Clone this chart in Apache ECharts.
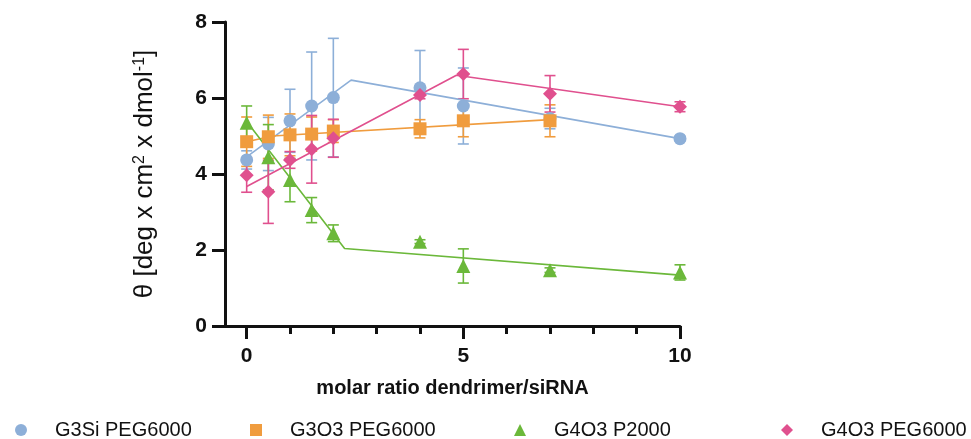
<!DOCTYPE html>
<html><head><meta charset="utf-8">
<script src="https://cdn.jsdelivr.net/npm/echarts@6/dist/echarts.min.js"></script>
<style>html,body{margin:0;padding:0;background:#fff}#c{width:971px;height:439px}</style>
</head><body><div id="c"></div>
<script>
// ---- data ----
const ratios = [0, 0.5, 1, 1.5, 2, 4, 5, 7, 10];
const ratiosG3O3 = [0, 0.5, 1, 1.5, 2, 4, 5, 7];

const g3siMean = [4.37, 4.79, 5.40, 5.79, 6.01, 6.27, 5.79, 5.46, 4.93];
const g3siErr  = [0.24, 0.70, 0.83, 1.42, 1.56, 0.98, 1.00, 0.27, 0.06];

const g3o3Mean = [4.85, 4.98, 5.03, 5.05, 5.13, 5.19, 5.40, 5.40];
const g3o3Err  = [0.65, 0.57, 0.55, 0.45, 0.30, 0.24, 0.42, 0.42];

const g4o3p2Mean = [5.35, 4.44, 3.84, 3.05, 2.44, 2.22, 1.58, 1.47, 1.41];
const g4o3p2Err  = [0.44, 0.86, 0.57, 0.33, 0.22, 0.05, 0.45, 0.06, 0.20];

const g4o3peMean = [3.97, 3.53, 4.37, 4.65, 4.94, 6.08, 6.63, 6.11, 5.77];
const g4o3peErr  = [0.45, 0.83, 0.22, 0.89, 0.50, 0.10, 0.65, 0.48, 0.13];

// segmented-regression fit lines (x, y at breakpoints)
const g3siFitX = [0, 2.41, 10];     const g3siFitY = [4.45, 6.47, 4.93];
const g3o3FitX = [0, 0.6, 7];       const g3o3FitY = [4.85, 5.00, 5.43];
const g4o3p2FitX = [0, 2.26, 10];   const g4o3p2FitY = [5.38, 2.04, 1.34];
const g4o3peFitX = [0, 4.84, 10];   const g4o3peFitY = [3.67, 6.60, 5.77];

const seriesNames = ['G3Si PEG6000', 'G3O3 PEG6000', 'G4O3 P2000', 'G4O3 PEG6000'];
const xTickLabels = [0, 5, 10];
const xMinorTicks = [1, 2, 3, 4, 6, 7, 8, 9];
const yTickLabels = [0, 2, 4, 6, 8];

// ---- styling ----
const colors = ['#8DAFD8', '#F09C3E', '#6BB83A', '#E0508E'];
const symbols = ['circle', 'rect', 'triangle', 'diamond'];
const FONT = 'Liberation Sans, Arial, Helvetica, sans-serif';

const groups = [
  {x: ratios, m: g3siMean, e: g3siErr, fx: g3siFitX, fy: g3siFitY},
  {x: ratiosG3O3, m: g3o3Mean, e: g3o3Err, fx: g3o3FitX, fy: g3o3FitY},
  {x: ratios, m: g4o3p2Mean, e: g4o3p2Err, fx: g4o3p2FitX, fy: g4o3p2FitY},
  {x: ratios, m: g4o3peMean, e: g4o3peErr, fx: g4o3peFitX, fy: g4o3peFitY}
];

function errRender(color) {
  return function (params, api) {
    const x = api.value(0), lo = api.value(1), hi = api.value(2);
    const a = api.coord([x, lo]), b = api.coord([x, hi]);
    const w = 5.5, st = {stroke: color, lineWidth: 1.6};
    return {type: 'group', children: [
      {type: 'line', shape: {x1: a[0], y1: a[1], x2: b[0], y2: b[1]}, style: st},
      {type: 'line', shape: {x1: a[0] - w, y1: a[1], x2: a[0] + w, y2: a[1]}, style: st},
      {type: 'line', shape: {x1: b[0] - w, y1: b[1], x2: b[0] + w, y2: b[1]}, style: st}
    ]};
  };
}

const series = [];
groups.forEach((g, i) => {
  series.push({
    type: 'custom', name: 'err' + i, renderItem: errRender(colors[i]),
    data: g.x.map((x, k) => [x, g.m[k] - g.e[k], g.m[k] + g.e[k]]),
    encode: {x: 0, y: [1, 2]}, z: 2, silent: true
  });
});
groups.forEach((g, i) => {
  series.push({
    type: 'line', name: 'fit' + i, data: g.fx.map((x, k) => [x, g.fy[k]]),
    showSymbol: false, symbol: 'none', lineStyle: {color: colors[i], width: 1.6},
    z: 3, silent: true
  });
});
groups.forEach((g, i) => {
  series.push({
    type: 'scatter', name: seriesNames[i], data: g.x.map((x, k) => [x, g.m[k]]),
    symbol: symbols[i], symbolSize: i === 2 ? 14 : (i === 3 ? 14 : 13),
    itemStyle: {color: colors[i], opacity: 1}, z: 4
  });
});

// legend positions (icon centres) and common settings
const legendCenters = [21, 256, 520, 787];
const legends = seriesNames.map((n, i) => ({
  data: [{name: n, icon: symbols[i]}],
  left: legendCenters[i] - 6, top: 420, padding: 0,
  itemWidth: 12, itemHeight: 12,
  formatter: name => '{g| }{t|' + name + '}',
  textStyle: {
    fontFamily: FONT, fontSize: 20, color: '#111',
    rich: {
      g: {width: 23, fontSize: 20},
      t: {fontFamily: FONT, fontSize: 20, color: '#111'}
    }
  },
  selectedMode: false
}));

const chart = echarts.init(document.getElementById('c'), null, {renderer: 'canvas'});
chart.setOption({
  animation: false,
  backgroundColor: '#fff',
  legend: legends,
  grid: {left: 225, right: 291, top: 22, bottom: 113, containLabel: false},
  xAxis: [{
    type: 'value', min: -0.5, max: 10,
    name: 'molar ratio dendrimer/siRNA', nameLocation: 'middle', nameGap: 52,
    nameTextStyle: {fontFamily: FONT, fontSize: 20, fontWeight: 'bold', color: '#111'},
    axisLine: {show: true, onZero: false, lineStyle: {color: '#111', width: 3}},
    axisTick: {show: true, length: 13, customValues: xTickLabels, lineStyle: {color: '#111', width: 3}},
    axisLabel: {customValues: xTickLabels, margin: 20, fontFamily: FONT, fontSize: 21, fontWeight: 'bold', color: '#111'},
    splitLine: {show: false}
  }, {
    type: 'value', min: -0.5, max: 10, position: 'bottom', gridIndex: 0,
    axisLine: {show: false},
    axisTick: {show: true, length: 8, customValues: xMinorTicks, lineStyle: {color: '#111', width: 3}},
    axisLabel: {show: false}, splitLine: {show: false}
  }],
  yAxis: {
    type: 'value', min: 0, max: 8, interval: 2,
    name: '{n|θ [deg x cm}{s|2}{n| x dmol}{s|-1}{n|]}',
    nameLocation: 'middle', nameGap: 67,
    nameTextStyle: {
      color: '#111',
      rich: {
        n: {fontFamily: FONT, fontSize: 26, color: '#111'},
        s: {fontFamily: FONT, fontSize: 16, color: '#111', verticalAlign: 'top'}
      }
    },
    axisLine: {show: true, onZero: false, lineStyle: {color: '#111', width: 3}},
    axisTick: {show: true, length: 13, lineStyle: {color: '#111', width: 3}},
    axisLabel: {margin: 18, fontFamily: FONT, fontSize: 21, fontWeight: 'bold', color: '#111',
      formatter: v => yTickLabels.includes(v) ? String(v) : ''},
    splitLine: {show: false}
  },
  series: series
});
</script></body></html>
